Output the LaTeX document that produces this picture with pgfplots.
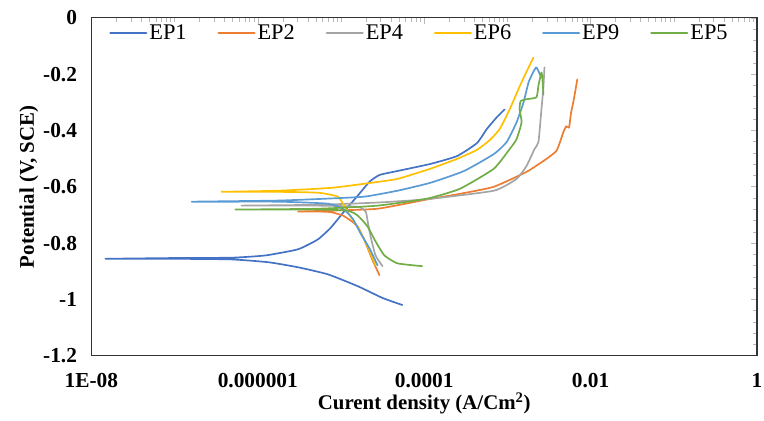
\documentclass[border=0pt]{standalone}
\usepackage{pgfplots}
\pgfplotsset{compat=1.18}
\usepackage{fontspec}
\setmainfont{Liberation Serif}
\definecolor{cEPone}{HTML}{4472C4}
\definecolor{cEPtwo}{HTML}{ED7D31}
\definecolor{cEPfour}{HTML}{A5A5A5}
\definecolor{cEPsix}{HTML}{FFC000}
\definecolor{cEPnine}{HTML}{5B9BD5}
\definecolor{cEPfive}{HTML}{70AD47}
\begin{document}
\begin{tikzpicture}
\path[use as bounding box] (-92pt,-65pt) rectangle (677pt,358pt);
\begin{axis}[
  at={(0pt,0pt)}, anchor=south west,
  scale only axis, width=670pt, height=340pt,
  xmode=log, xmin=1e-8, xmax=1, ymin=-1.2, ymax=0,
  xtick={1e-8,1e-6,1e-4,1e-2,1},
  xticklabels={1E-08,0.000001,0.0001,0.01,1},
  ytick={-1.2,-1,-0.8,-0.6,-0.4,-0.2,0},
  yticklabels={-1.2,-1,-0.8,-0.6,-0.4,-0.2,0},
  minor y tick num=4,
  minor xtick={2e-8,3e-8,4e-8,5e-8,6e-8,7e-8,8e-8,9e-8,1e-7,2e-7,3e-7,4e-7,5e-7,6e-7,7e-7,8e-7,9e-7,
               2e-6,3e-6,4e-6,5e-6,6e-6,7e-6,8e-6,9e-6,1e-5,2e-5,3e-5,4e-5,5e-5,6e-5,7e-5,8e-5,9e-5,
               2e-4,3e-4,4e-4,5e-4,6e-4,7e-4,8e-4,9e-4,1e-3,2e-3,3e-3,4e-3,5e-3,6e-3,7e-3,8e-3,9e-3,
               2e-2,3e-2,4e-2,5e-2,6e-2,7e-2,8e-2,9e-2,1e-1,2e-1,3e-1,4e-1,5e-1,6e-1,7e-1,8e-1,9e-1},
  xtick pos=upper, xticklabel pos=lower,
  ytick pos=right, yticklabel pos=left,
  tick align=inside,
  major tick length=6pt, minor tick length=4pt,
  tick style={draw=gray!55, line width=0.6pt},
  ticklabel style={font=\fontsize{21.5}{25}\selectfont\bfseries},
  xticklabel style={yshift=-14pt},
  yticklabel style={xshift=-11pt},
  axis line style={draw=black!80, line width=1.2pt},
  xlabel={Curent density (A/Cm\textsuperscript{2})},
  ylabel={Potential (V, SCE)},
  label style={font=\fontsize{21}{25}\selectfont\bfseries},
  xlabel style={yshift=2pt},
  ylabel style={yshift=-2pt},
  legend columns=6,
  legend style={draw=none, fill=none, at={(rel axis cs:0.022,0.956)}, anchor=west,
    font=\fontsize{22.5}{26}\selectfont,
    /tikz/every even column/.append style={column sep=29pt}},
  legend image code/.code={\draw[#1, line width=2.4pt] (0pt,0pt) -- (36pt,0pt);},
  every axis plot/.append style={line width=1.7pt, line join=round, line cap=round, smooth, tension=0.3},
]
\addplot[cEPone] coordinates {
(5.46e-5,-1.020) (3.155e-5,-0.995) (1.585e-5,-0.953) (6.95e-6,-0.911) (3.05e-6,-0.886)
(1.334e-6,-0.868) (4.83e-7,-0.858) (1.125e-7,-0.856) (1.469e-8,-0.856) (1.125e-7,-0.853)
(4.83e-7,-0.852) (1.230e-6,-0.844) (3.05e-6,-0.822) (5.27e-6,-0.787) (7.55e-6,-0.745)
(1.109e-5,-0.685) (1.585e-5,-0.632) (2.203e-5,-0.582) (2.904e-5,-0.558) (4.764e-5,-0.544)
(1.180e-4,-0.519) (2.477e-4,-0.491) (4.295e-4,-0.445) (5.649e-4,-0.395) (7.447e-4,-0.353)
(9.27e-4,-0.325)};
\addlegendentry{EP1}
\addplot[cEPtwo] coordinates {
(2.90e-5,-0.914) (2.393e-5,-0.861) (1.923e-5,-0.791) (1.585e-5,-0.741) (1.306e-5,-0.720)
(1.05e-5,-0.702) (7.55e-6,-0.690) (5.27e-6,-0.688) (3.05e-6,-0.688) (6.95e-6,-0.685)
(2.748e-5,-0.678) (1.086e-4,-0.645) (2.692e-4,-0.625) (6.855e-4,-0.600) (1.698e-3,-0.547)
(2.944e-3,-0.501) (3.873e-3,-0.473) (4.3e-3,-0.440) (4.699e-3,-0.406) (5.093e-3,-0.385)
(5.5e-3,-0.390) (5.8e-3,-0.340) (6.180e-3,-0.300) (6.5e-3,-0.265) (6.902e-3,-0.219)};
\addlegendentry{EP2}
\addplot[cEPfour] coordinates {
(3.155e-5,-0.882) (2.600e-5,-0.844) (2.265e-5,-0.776) (2.084e-5,-0.720) (1.977e-5,-0.688)
(1.585e-5,-0.671) (5.27e-6,-0.667) (6.353e-7,-0.667) (5.27e-6,-0.664) (2.748e-5,-0.656)
(1.086e-4,-0.644) (6.855e-4,-0.614) (1.288e-3,-0.572) (1.698e-3,-0.526) (2.113e-3,-0.466)
(2.360e-3,-0.441) (2.564e-3,-0.325) (2.710e-3,-0.244) (2.786e-3,-0.176)};
\addlegendentry{EP4}
\addplot[cEPsix] coordinates {
(2.600e-5,-0.879) (2.084e-5,-0.812) (1.675e-5,-0.755) (1.306e-5,-0.706) (1.109e-5,-0.671)
(9.14e-6,-0.635) (5.27e-6,-0.621) (1.758e-6,-0.618) (3.664e-7,-0.618) (1.758e-6,-0.614)
(7.55e-6,-0.604) (1.923e-5,-0.589) (4.764e-5,-0.572) (1.180e-4,-0.536) (2.477e-4,-0.501)
(4.295e-4,-0.469) (6.138e-4,-0.434) (8.07e-4,-0.395) (1.064e-3,-0.325) (1.400e-3,-0.244)
(1.698e-3,-0.191) (2.056e-3,-0.141)};
\addlegendentry{EP6}
\addplot[cEPnine] coordinates {
(2.748e-5,-0.879) (2.203e-5,-0.819) (1.722e-5,-0.766) (1.380e-5,-0.713) (1.05e-5,-0.678)
(6.95e-6,-0.660) (1.758e-6,-0.653) (1.607e-7,-0.653) (1.758e-6,-0.649) (6.95e-6,-0.642)
(1.923e-5,-0.635) (4.764e-5,-0.614) (1.180e-4,-0.586) (3.006e-4,-0.544) (6.855e-4,-0.484)
(9.79e-4,-0.441) (1.288e-3,-0.371) (1.563e-3,-0.300) (1.795e-3,-0.229) (2.056e-3,-0.191)
(2.234e-3,-0.176) (2.495e-3,-0.205)};
\addlegendentry{EP9}
\addplot[cEPfive] coordinates {
(9.46e-5,-0.882) (4.764e-5,-0.872) (3.327e-5,-0.844) (2.600e-5,-0.794) (2.084e-5,-0.741)
(1.585e-5,-0.702) (1.205e-5,-0.685) (5.27e-6,-0.681) (5.383e-7,-0.681) (5.27e-6,-0.678)
(2.748e-5,-0.667) (1.086e-4,-0.642) (2.692e-4,-0.607) (6.855e-4,-0.536) (1.064e-3,-0.466)
(1.288e-3,-0.431) (1.479e-3,-0.371) (1.400e-3,-0.325) (1.44e-3,-0.296) (1.698e-3,-0.289)
(2.234e-3,-0.282) (2.360e-3,-0.240) (2.564e-3,-0.194) (2.635e-3,-0.219) (2.710e-3,-0.272)};
\addlegendentry{EP5}
\end{axis}
\end{tikzpicture}
\end{document}
